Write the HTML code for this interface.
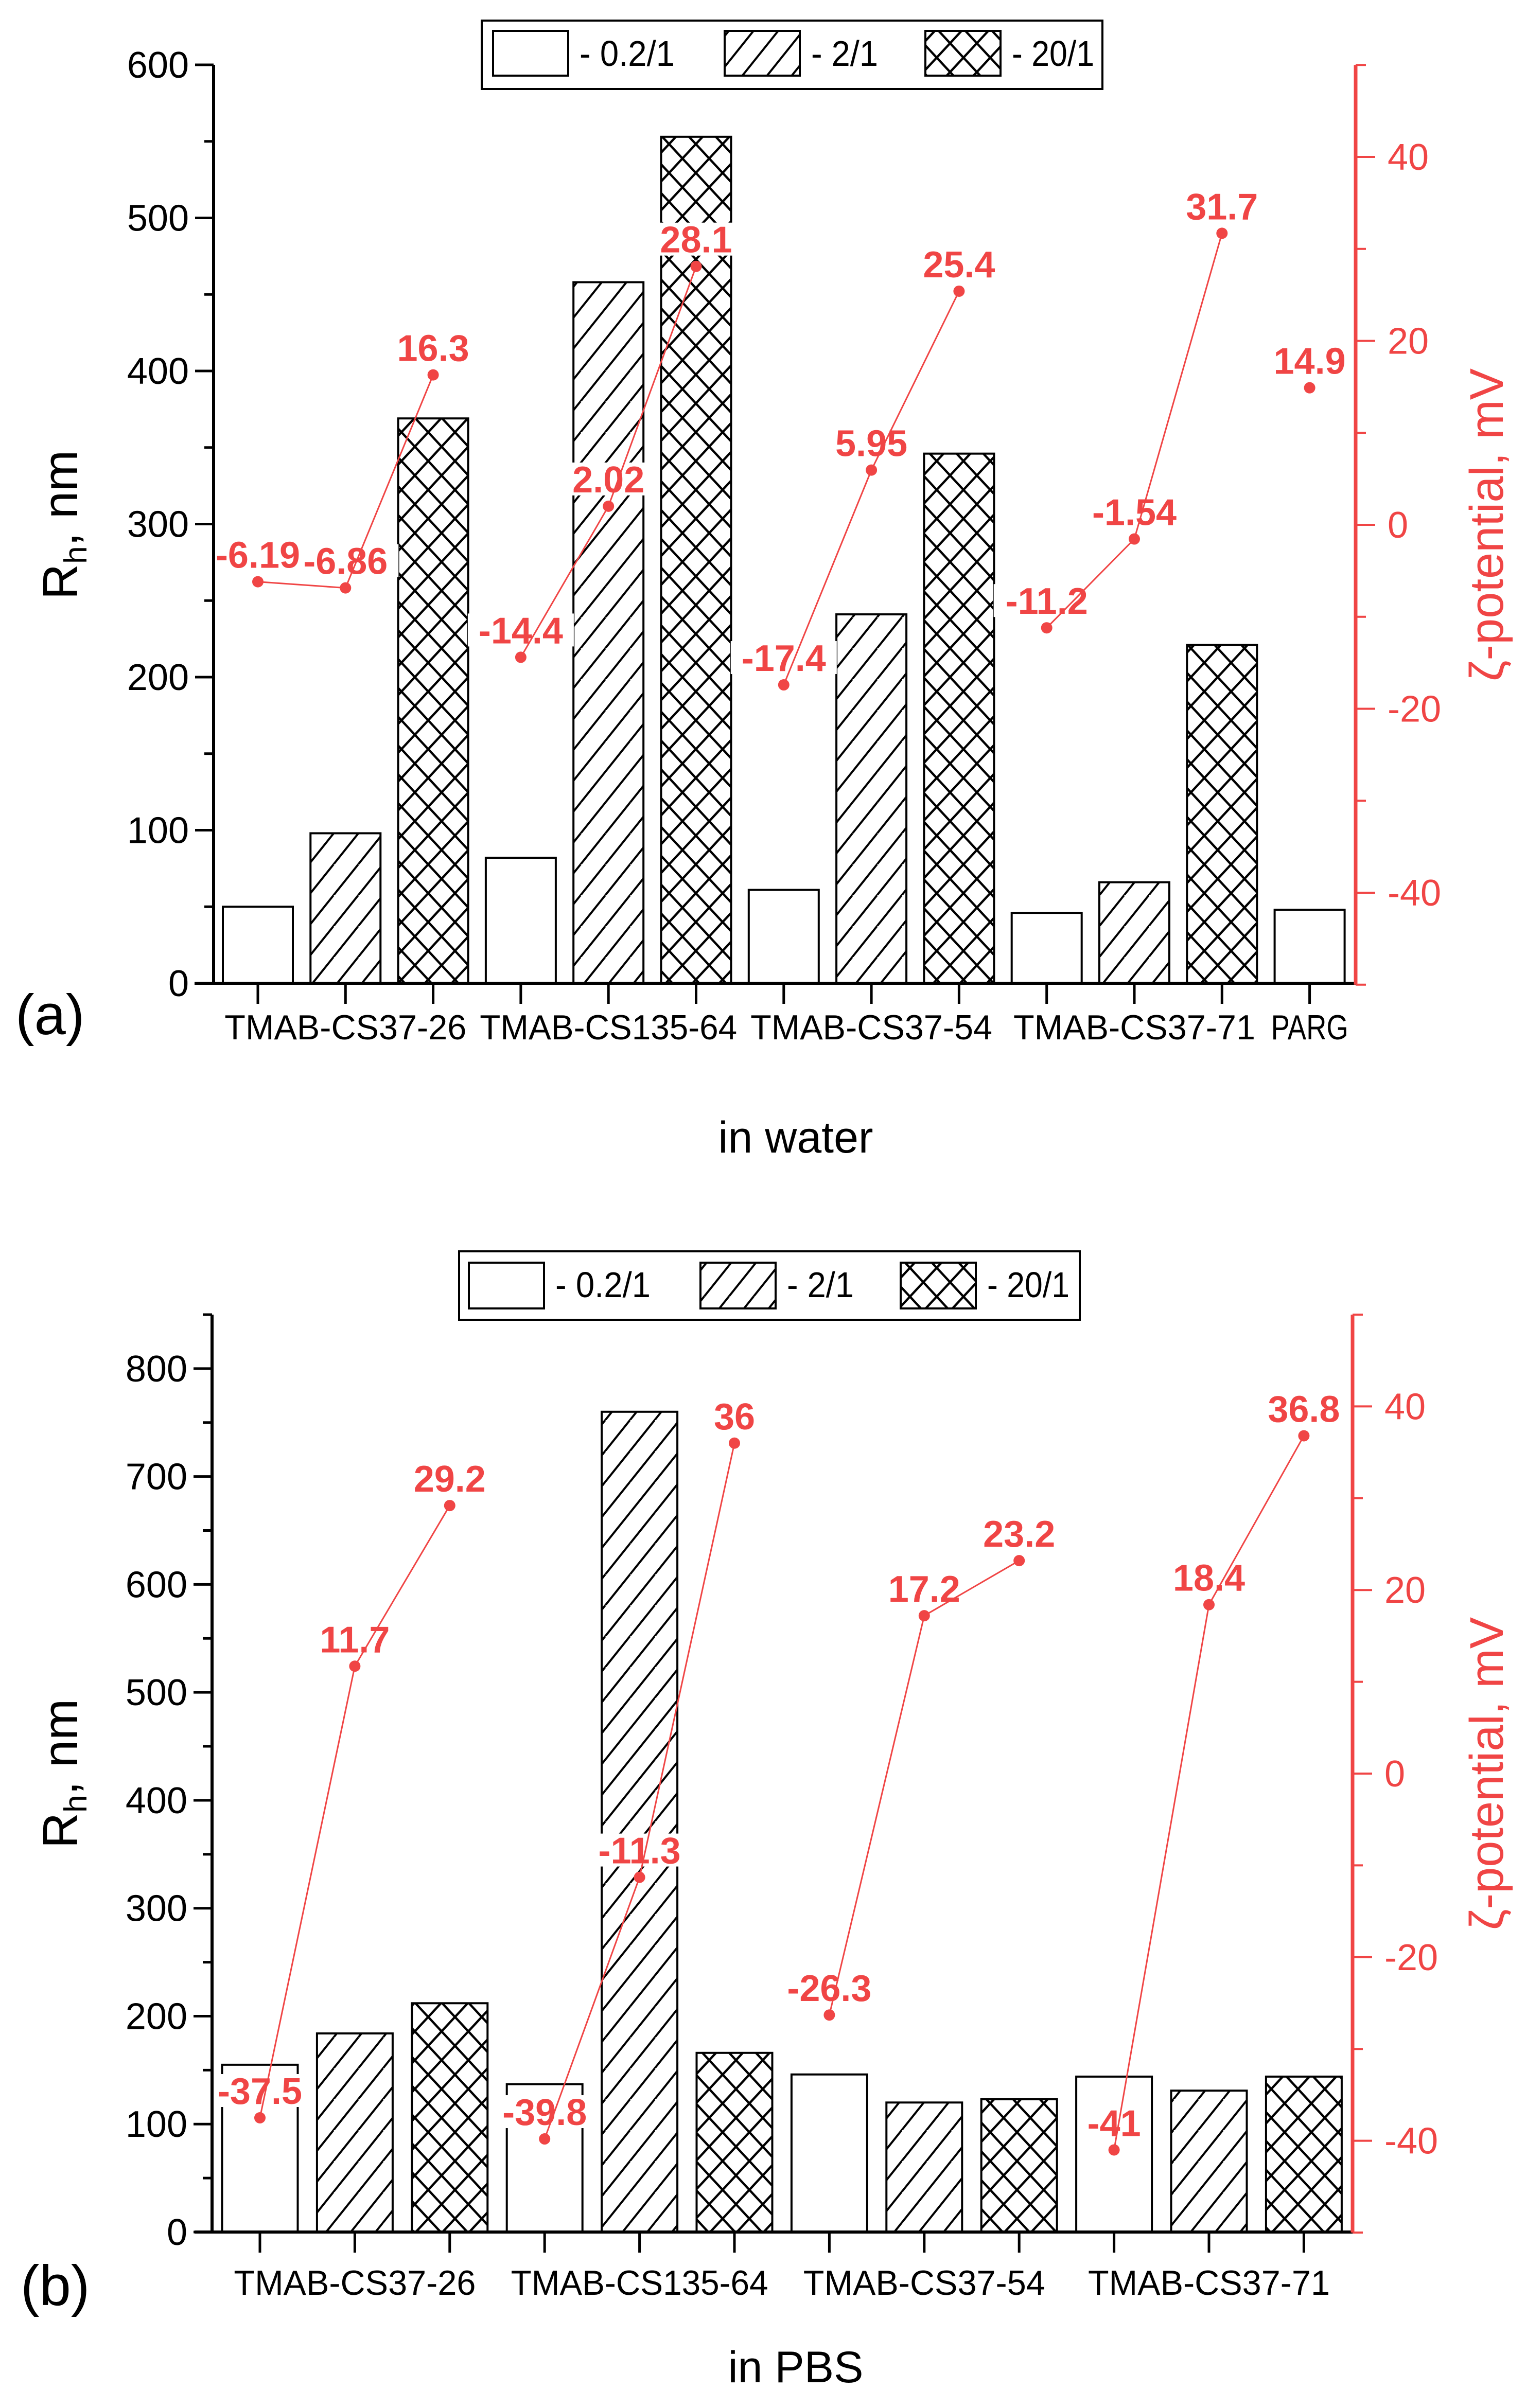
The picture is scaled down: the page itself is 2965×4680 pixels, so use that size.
<!DOCTYPE html>
<html><head><meta charset="utf-8"><style>
html,body{margin:0;padding:0;background:#fff}
svg{display:block}
text{font-family:"Liberation Sans",Arial,sans-serif}
</style></head><body>
<svg id="chart" xmlns="http://www.w3.org/2000/svg" width="2965" height="4680" viewBox="0 0 2965 4680">
<defs>
<pattern id="slash" patternUnits="userSpaceOnUse" width="48" height="60">
<path d="M-24,60 L24,0 M24,60 L72,0 M-24,120 L72,0" stroke="#000" stroke-width="4" fill="none"/>
</pattern>
<pattern id="cross" patternUnits="userSpaceOnUse" width="52" height="56">
<path d="M0,0 L52,56 M52,0 L0,56" stroke="#000" stroke-width="4.5" fill="none"/>
</pattern>
</defs>
<g id="pa"></g>
<g id="pb"></g>
</svg>
<script>
const catsA = ["TMAB-CS37-26","TMAB-CS135-64","TMAB-CS37-54","TMAB-CS37-71","PARG"];
const rhA = [[50,98,369],[82,458,553],[61,241,346],[46,66,221],[48]];
const zetaA = [[-6.19,-6.86,16.3],[-14.4,2.02,28.1],[-17.4,5.95,25.4],[-11.2,-1.54,31.7],[14.9]];
const zetaLabelsA = [["-6.19","-6.86","16.3"],["-14.4","2.02","28.1"],["-17.4","5.95","25.4"],["-11.2","-1.54","31.7"],["14.9"]];
const leftTicksA = [0,100,200,300,400,500,600];
const catsB = ["TMAB-CS37-26","TMAB-CS135-64","TMAB-CS37-54","TMAB-CS37-71"];
const rhB = [[155,184,212],[137,760,166],[146,120,123],[144,131,144]];
const zetaB = [[-37.5,11.7,29.2],[-39.8,-11.3,36],[-26.3,17.2,23.2],[-41,18.4,36.8]];
const zetaLabelsB = [["-37.5","11.7","29.2"],["-39.8","-11.3","36"],["-26.3","17.2","23.2"],["-41","18.4","36.8"]];
const leftTicksB = [0,100,200,300,400,500,600,700,800];
const rightTicks = [-40,-20,0,20,40];
const fills = ["#fff","url(#slash)","url(#cross)"];
const RED = "#f04545";
const NS = "http://www.w3.org/2000/svg";
function mk(parent, tag, attrs, txt){const e=document.createElementNS(NS,tag);for(const k in attrs)e.setAttribute(k,attrs[k]);if(txt!==undefined)e.textContent=txt;parent.appendChild(e);return e;}

function panel(g, cfg){
  const yL = v => cfg.y0 - (v/cfg.lmax)*(cfg.y0-cfg.ytop);
  const yR = z => cfg.zy0 - z*cfg.zs;
  const xC = i => cfg.x0 + i*cfg.step;
  let idx=0;
  cfg.rh.forEach((grp,gi)=>{
    grp.forEach((v,k)=>{
      const x=xC(idx);
      const r=mk(g,'rect',{x:x-cfg.bw/2,y:yL(v),width:cfg.bw,height:cfg.y0-yL(v),fill:fills[k],stroke:'#000','stroke-width':4});
      
      
      idx++;
    });
  });
  idx=0;
  cfg.zeta.forEach((grp,gi)=>{
    grp.forEach((z,k)=>{
      const x=xC(idx+k),y=yR(z);
      const w=cfg.zl[gi][k].length*40+6;
      mk(g,'rect',{x:x-w/2,y:y-27-58,width:w,height:64,fill:'#fff'});
    });
    idx+=grp.length;
  });
  let ax=mk(g,'line',{x1:cfg.ax,y1:cfg.ytop,x2:cfg.ax,y2:cfg.y0,stroke:'#000','stroke-width':6});
  
  ax=mk(g,'line',{x1:378,y1:cfg.y0,x2:cfg.rx,y2:cfg.y0,stroke:'#000','stroke-width':6});
  
  for(let v=0;v<=cfg.lmax;v+=50){
    const major=v%100===0;
    mk(g,'line',{x1:cfg.ax-(major?36:18),y1:yL(v),x2:cfg.ax,y2:yL(v),stroke:'#000','stroke-width':5});
  }
  cfg.lt.forEach(v=>{
    const t=mk(g,'text',{x:cfg.ax-48,y:yL(v)+25,'text-anchor':'end','font-size':72},String(v));
    
  });
  for(let i=0;i<idx;i++) mk(g,'line',{x1:xC(i),y1:cfg.y0,x2:xC(i),y2:cfg.y0+40,stroke:'#000','stroke-width':5});
  let ci=0;
  cfg.rh.forEach((grp,gi)=>{
    const mid=xC(ci+(grp.length-1)/2);
    const wid = cfg.cats[gi]==="PARG"?150:(cfg.cats[gi].length>12?500:470);
    const t=mk(g,'text',{x:mid,y:cfg.catY,'text-anchor':'middle','font-size':68,textLength:wid,lengthAdjust:'spacingAndGlyphs'},cfg.cats[gi]);
    
    ci+=grp.length;
  });
  ax=mk(g,'line',{x1:cfg.rx,y1:yR(50),x2:cfg.rx,y2:yR(-50),stroke:RED,'stroke-width':7});
  
  for(let z=-50;z<=50;z+=10){const major=z%20===0;mk(g,'line',{x1:cfg.rx,y1:yR(z),x2:cfg.rx+(major?38:20),y2:yR(z),stroke:RED,'stroke-width':4});}
  rightTicks.forEach(z=>{
    const t=mk(g,'text',{x:cfg.rx+62,y:yR(z)+25,'font-size':72,fill:RED},String(z));
    
  });
  idx=0;
  cfg.zeta.forEach((grp,gi)=>{
    const pts=grp.map((z,k)=>[xC(idx+k),yR(z)]);
    if(pts.length>1){
      const l=mk(g,'polyline',{points:pts.map(p=>p.join(',')).join(' '),fill:'none',stroke:RED,'stroke-width':3});
      
    }
    idx+=grp.length;
  });
  idx=0;
  cfg.zeta.forEach((grp,gi)=>{
    grp.forEach((z,k)=>{
      const x=xC(idx+k),y=yR(z);
      const lab=cfg.zl[gi][k];
      const c=mk(g,'circle',{cx:x,cy:y,r:11,fill:RED});
      
      const t=mk(g,'text',{x:x,y:y-27,'text-anchor':'middle','font-size':72,'font-weight':'bold',fill:RED},lab);
      
    });
    idx+=grp.length;
  });
  let t=mk(g,'text',{transform:`translate(${cfg.ltX},${cfg.ltY}) rotate(-90)`,'text-anchor':'middle','font-size':96},'');
  
  t.innerHTML='R<tspan font-size="62" dy="18">h</tspan><tspan dy="-18">, nm</tspan>';
  t=mk(g,'text',{transform:`translate(${cfg.rtX},${cfg.rtY}) rotate(-90)`,'text-anchor':'middle','font-size':92,fill:RED},'ζ-potential, mV');
  
  t=mk(g,'text',{x:cfg.tagX,y:cfg.tagY,'font-size':110},cfg.tag);
  
  t=mk(g,'text',{x:1546,y:cfg.xtY,'text-anchor':'middle','font-size':86},cfg.xt);
  
  const L=cfg.leg;
  const lb=mk(g,'rect',{x:L.x,y:L.y,width:L.w,height:L.h,fill:'#fff',stroke:'#000','stroke-width':4});
  
  ['- 0.2/1','- 2/1','- 20/1'].forEach((s,k)=>{
    const sw=mk(g,'rect',{x:L.sx[k],y:L.sy,width:146,height:L.sh,fill:fills[k],stroke:'#000','stroke-width':4});
    
    const tt=mk(g,'text',{x:L.sx[k]+168,y:L.ty,'font-size':70,textLength:[185,130,160][k],lengthAdjust:'spacingAndGlyphs'},s);
    
  });
}
panel(document.getElementById('pa'),{
  cats:catsA,rh:rhA,zeta:zetaA,zl:zetaLabelsA,lt:leftTicksA,lmax:600,
  y0:1911,ytop:126,zy0:1020,zs:17.875,ax:415,rx:2634,x0:501,step:170.3,bw:136,
  catY:2020,ltX:150,ltY:1020,rtX:2920,rtY:1020,tag:'(a)',tagX:30,tagY:2010,xt:'in water',xtY:2240,
  leg:{x:936,y:40,w:1206,h:133,sx:[958,1408,1798],sy:60,sh:87,ty:128}
});
panel(document.getElementById('pb'),{
  cats:catsB,rh:rhB,zeta:zetaB,zl:zetaLabelsB,lt:leftTicksB,lmax:850,
  y0:4338,ytop:2555,zy0:3447,zs:17.84,ax:412,rx:2628,x0:505,step:184.4,bw:147,
  catY:4460,ltX:150,ltY:3447,rtX:2920,rtY:3447,tag:'(b)',tagX:40,tagY:4480,xt:'in PBS',xtY:4630,
  leg:{x:892,y:2432,w:1206,h:133,sx:[911,1361,1750],sy:2454,sh:89,ty:2521}
});
</script>
</body></html>
